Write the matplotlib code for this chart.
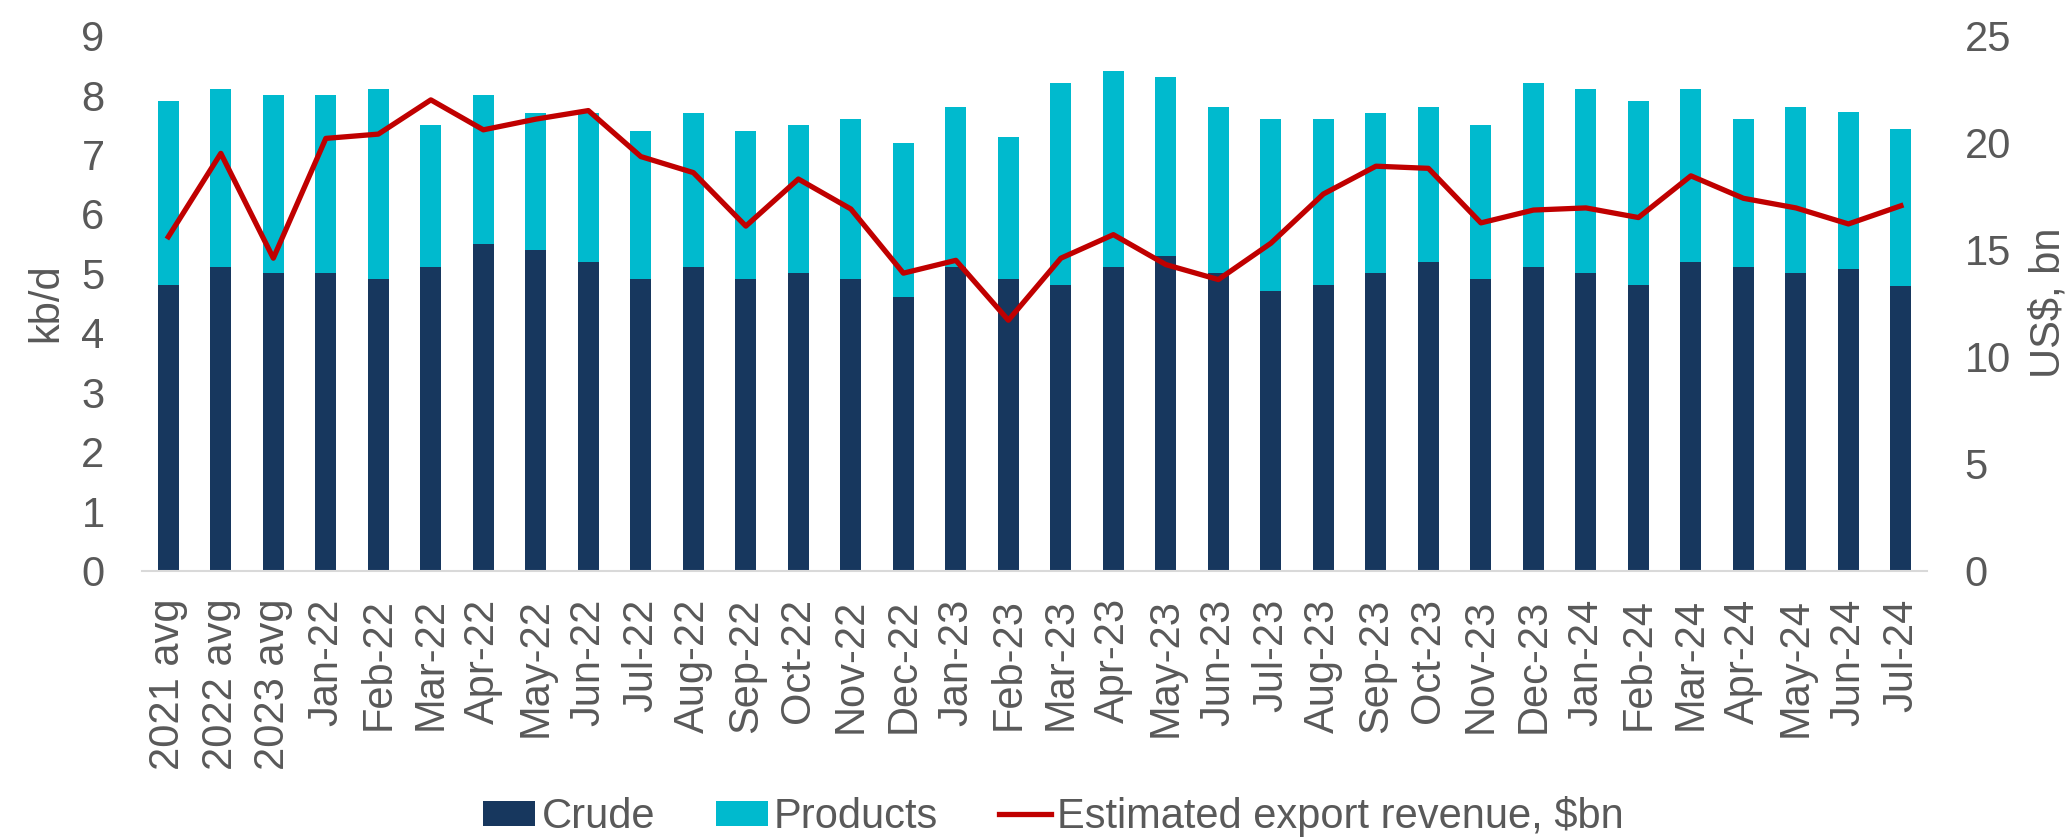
import matplotlib
matplotlib.use("Agg")
from matplotlib import pyplot as plt
import numpy as np

categories = [
    "2021 avg", "2022 avg", "2023 avg",
    "Jan-22", "Feb-22", "Mar-22", "Apr-22", "May-22", "Jun-22",
    "Jul-22", "Aug-22", "Sep-22", "Oct-22", "Nov-22", "Dec-22",
    "Jan-23", "Feb-23", "Mar-23", "Apr-23", "May-23", "Jun-23",
    "Jul-23", "Aug-23", "Sep-23", "Oct-23", "Nov-23", "Dec-23",
    "Jan-24", "Feb-24", "Mar-24", "Apr-24", "May-24", "Jun-24", "Jul-24",
]
crude = [
    4.8, 5.1, 5.0,
    5.0, 4.9, 5.1, 5.5, 5.4, 5.2,
    4.9, 5.1, 4.9, 5.0, 4.9, 4.6,
    5.1, 4.9, 4.8, 5.1, 5.3, 5.0,
    4.7, 4.8, 5.0, 5.2, 4.9, 5.1,
    5.0, 4.8, 5.2, 5.1, 5.0, 5.08, 4.78,
]
total = [
    7.9, 8.1, 8.0,
    8.0, 8.1, 7.5, 8.0, 7.7, 7.7,
    7.4, 7.7, 7.4, 7.5, 7.6, 7.2,
    7.8, 7.3, 8.2, 8.4, 8.3, 7.8,
    7.6, 7.6, 7.7, 7.8, 7.5, 8.2,
    8.1, 7.9, 8.1, 7.6, 7.8, 7.72, 7.43,
]
products = [t - c for t, c in zip(total, crude)]
revenue = [
    15.6, 19.5, 14.6,
    20.2, 20.4, 22.0, 20.6, 21.1, 21.5,
    19.35, 18.6, 16.1, 18.3, 16.9, 13.9,
    14.5, 11.7, 14.6, 15.7, 14.3, 13.6,
    15.3, 17.6, 18.9, 18.8, 16.25, 16.85,
    16.95, 16.5, 18.45, 17.4, 16.95, 16.2, 17.05,
]

NAVY, CYAN, RED, GREY = "#17375E", "#00BACE", "#C00000", "#595959"
FS = 30
plt.rcParams["font.family"] = ["Liberation Sans", "DejaVu Sans"]

fig = plt.figure(figsize=(20.68, 8.4), dpi=100)
ax = fig.add_axes([0.0687, 0.3208, 0.8632, 0.6367])
x = np.arange(len(categories))
b1 = ax.bar(x, crude, width=0.4, color=NAVY, label="Crude")
b2 = ax.bar(x, products, width=0.4, bottom=crude, color=CYAN, label="Products")
ax.set_ylim(0, 9)
ax.set_xlim(-0.5, len(categories) - 0.5)
ax.set_yticks(range(0, 10))
ax.set_xticks(x)
ax.set_xticklabels(categories, rotation=90)
ax.tick_params(axis="both", length=0, labelsize=FS, colors=GREY)
ax.tick_params(axis="x", pad=20)
ax.tick_params(axis="y", pad=27)
ax.set_ylabel("kb/d", fontsize=FS, color=GREY)
ax.yaxis.set_label_coords(-0.0426, 0.5)
for side in ("top", "left", "right"):
    ax.spines[side].set_visible(False)
ax.spines["bottom"].set_color("#D9D9D9")
ax.spines["bottom"].set_linewidth(1.5)

ax2 = ax.twinx()
ln, = ax2.plot(x, revenue, color=RED, lw=3.8, label="Estimated export revenue, $bn")
ax2.set_ylim(0, 25)
ax2.set_yticks(range(0, 30, 5))
ax2.tick_params(axis="y", length=0, labelsize=FS, colors=GREY, pad=27)
ax2.set_ylabel("US$, bn", fontsize=FS, color=GREY)
ax2.yaxis.set_label_coords(1.0566, 0.5)
for side in ("top", "left", "right", "bottom"):
    ax2.spines[side].set_visible(False)

fig.legend(handles=[b1, b2, ln], loc="center", bbox_to_anchor=(0.5094, 0.028), ncol=3,
           frameon=False, fontsize=FS, labelcolor=GREY, handlelength=1.25, handleheight=0.53,
           handletextpad=0.15, columnspacing=1.45, borderaxespad=0, borderpad=0)

fig.savefig("out.png", dpi=100)
